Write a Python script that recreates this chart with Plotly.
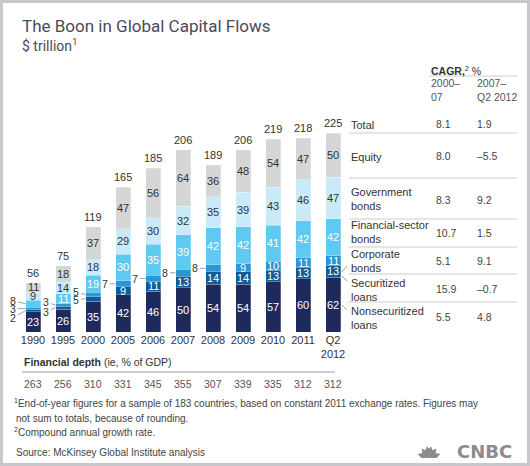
import math
import plotly.graph_objects as go

W, H = 530, 466

years = ["1990", "1995", "2000", "2005", "2006", "2007", "2008", "2009", "2010", "2011", "Q2<br>2012"]
nonsec_loans = [23, 26, 35, 42, 46, 50, 54, 54, 57, 60, 62]
sec_loans = [2, 3, 5, 9, 11, 13, 14, 14, 13, 13, 13]
corp_bonds = [3, 3, 5, 7, 7, 8, 8, 9, 10, 11, 11]
fin_bonds = [8, 11, 19, 30, 35, 39, 42, 42, 41, 42, 42]
gov_bonds = [9, 14, 18, 29, 30, 32, 35, 39, 43, 46, 47]
equity = [11, 18, 37, 47, 56, 64, 36, 48, 54, 47, 50]
totals = [56, 75, 119, 165, 185, 206, 189, 206, 219, 218, 225]
fin_depth = [263, 256, 310, 331, 345, 355, 307, 339, 335, 312, 312]

row_labels = ["Total", "Equity", "Government<br>bonds", "Financial-sector<br>bonds",
              "Corporate<br>bonds", "Securitized<br>loans", "Nonsecuritized<br>loans"]
cagr_2000_07 = ["8.1", "8.0", "8.3", "10.7", "5.1", "15.9", "5.5"]
cagr_2007_12 = ["1.9", "–5.5", "9.2", "1.5", "9.1", "–0.7", "4.8"]

series = [
    ("Nonsecuritized loans", nonsec_loans, "#1f2a5c", "white"),
    ("Securitized loans", sec_loans, "#0d5c96", "white"),
    ("Corporate bonds", corp_bonds, "#2b95d6", "white"),
    ("Financial-sector bonds", fin_bonds, "#5ec9f1", "white"),
    ("Government bonds", gov_bonds, "#c9eaf8", "#333333"),
    ("Equity", equity, "#d4d7d6", "#333333"),
]

# segments labelled outside with a leader line: (series idx, bar idx) -> (ax, ay) pixel offsets
callouts = {
    (3, 0): (-13, -3), (2, 0): (-13, 0), (1, 0): (-13, 7),
    (2, 1): (-10, -3), (1, 1): (-10, 4),
    (2, 2): (-10, -2), (1, 2): (-10, 1),
    (2, 3): (-11, 0), (2, 4): (-11, 0), (2, 5): (-11, 0), (2, 6): (-11, 0),
}

def px(x):
    return x / W

def py(y):
    return 1 - y / H

FONT = "Liberation Sans, Arial, sans-serif"
TXT = "#333333"

fig = go.Figure()
xs = list(range(len(years)))
for name, vals, col, _ in series:
    fig.add_trace(go.Bar(x=xs, y=vals, name=name, width=0.5,
                         marker=dict(color=col, line=dict(color="rgba(255,255,255,0.5)", width=0.5)),
                         hoverinfo="skip"))

ann = []

def ptext(x, y, text, size=10.5, color=TXT, xanchor="left", family=FONT, align="left"):
    ann.append(dict(x=px(x), y=py(y), xref="paper", yref="paper", xanchor=xanchor,
                    yanchor="middle", align=align, text=text, showarrow=False,
                    font=dict(size=size, color=color, family=family)))

base = [0] * len(years)
for si, (name, vals, col, tcol) in enumerate(series):
    for i, v in enumerate(vals):
        mid = base[i] + v / 2
        if (si, i) in callouts:
            ax, ay = callouts[(si, i)]
            ann.append(dict(x=i - 0.25, y=mid, xref="x", yref="y", text=str(v),
                            showarrow=True, arrowhead=0, arrowwidth=0.8, arrowcolor="#8a8a8a",
                            ax=ax, ay=ay, standoff=0, startstandoff=1,
                            font=dict(size=10.5, color=TXT, family=FONT)))
        else:
            ann.append(dict(x=i, y=mid, xref="x", yref="y", text=str(v), showarrow=False,
                            xanchor="center", yanchor="middle",
                            font=dict(size=11, color=tcol, family=FONT)))
        base[i] += v

for i, t in enumerate(totals):
    ann.append(dict(x=i, y=base[i], xref="x", yref="y", text=str(t), showarrow=False,
                    xanchor="center", yanchor="bottom", yshift=2,
                    font=dict(size=11, color=TXT, family=FONT)))

# financial depth
ptext(22, 362, "<b>Financial depth</b> (ie, % of GDP)", size=10.5)
for i, v in enumerate(fin_depth):
    ann.append(dict(x=i, y=py(384), xref="x", yref="paper", text=str(v), showarrow=False,
                    xanchor="center", yanchor="middle",
                    font=dict(size=10.5, color="#555555", family=FONT)))

# title
ptext(20, 26, "The Boon in Global Capital Flows", size=17, color="#4a4a58", family="Roboto, sans-serif")
ptext(20, 45, "$ trillion<sup>1</sup>", size=14, color="#4a4a58", family="Roboto, sans-serif")

# table header
ptext(429, 70, "<b>CAGR,</b><sup>2</sup> %", size=10.5)
ptext(429, 90.5, "2000–<br>07", size=10.5, color="#555555")
ptext(475, 90.5, "2007–<br>Q2 2012", size=10.5, color="#555555")

label_y = [125, 157, 199, 232.5, 260.5, 289.5, 317.5]
value_y = [124, 156, 200, 233, 261, 289, 317]
for lab, ly, vy, c1, c2 in zip(row_labels, label_y, value_y, cagr_2000_07, cagr_2007_12):
    ptext(349, ly, lab, size=11)
    ptext(434, vy, c1, size=10.5, color="#444444")
    ptext(475, vy, c2, size=10.5, color="#444444")

# footnotes
ptext(12, 403, "<sup>1</sup>End-of-year figures for a sample of 183 countries, based on constant 2011 exchange rates. Figures may",
      size=10, color="#444444")
ptext(14, 418, "not sum to totals, because of rounding.", size=10, color="#444444")
ptext(12, 432, "<sup>2</sup>Compound annual growth rate.", size=10, color="#444444")
ptext(14, 452, "Source: McKinsey Global Institute analysis", size=10, color="#444444")
ptext(514, 451, "<b>CNBC</b>", size=18, color="#8c8c8c", xanchor="right", family="DejaVu Sans, sans-serif")

shapes = [
    dict(type="rect", xref="paper", yref="paper", x0=px(3), x1=px(527), y0=py(463), y1=py(3),
         fillcolor="white", line=dict(width=0), layer="below"),
    dict(type="line", xref="paper", yref="paper", x0=px(22), x1=px(335), y0=py(372), y1=py(372),
         line=dict(color="#9a9a9a", width=1)),
    dict(type="line", xref="paper", yref="paper", x0=px(429), x1=px(517), y0=py(76), y1=py(76),
         line=dict(color="#cccccc", width=1)),
]
for yy in [133, 178, 219, 247, 274, 302]:
    shapes.append(dict(type="line", xref="paper", yref="paper", x0=px(349), x1=px(517),
                       y0=py(yy), y1=py(yy), line=dict(color="#cccccc", width=1)))
for (x0, y0, x1, y1) in [(342, 272, 347, 266), (342, 276, 347, 281), (342, 305, 347, 310)]:
    shapes.append(dict(type="line", xref="paper", yref="paper", x0=px(x0), x1=px(x1),
                       y0=py(y0), y1=py(y1), line=dict(color="#8a8a8a", width=0.8)))

# simple peacock mark next to the CNBC wordmark
cx, cy = 429, 458
for ang in [160, 128, 100, 80, 52, 20]:
    a = math.radians(ang)
    L, wd = 12, 2.6
    tx, ty = cx + L * math.cos(a), cy - L * math.sin(a)
    nx, ny = -math.sin(a) * wd, -math.cos(a) * wd
    mx, my = cx + 0.6 * L * math.cos(a), cy - 0.6 * L * math.sin(a)
    path = (f"M {px(cx)} {py(cy)} L {px(mx + nx)} {py(my + ny)} L {px(tx)} {py(ty)} "
            f"L {px(mx - nx)} {py(my - ny)} Z")
    shapes.append(dict(type="path", xref="paper", yref="paper", path=path,
                       fillcolor="#8c8c8c", line=dict(width=0)))

ymax = 250
fig.update_layout(
    width=W, height=H, margin=dict(l=0, r=0, t=0, b=0),
    paper_bgcolor="#c8c8cc", plot_bgcolor="rgba(0,0,0,0)",
    barmode="stack", bargap=0.5, showlegend=False,
    xaxis=dict(domain=[px(18), px(348)], range=[-0.5, 10.5], tickvals=xs, ticktext=years,
               showgrid=False, zeroline=False, showline=False, ticks="",
               tickfont=dict(size=11, color=TXT, family=FONT), fixedrange=True),
    yaxis=dict(domain=[py(332), py(332 - ymax * 0.884)], range=[0, ymax], visible=False,
               fixedrange=True),
    annotations=ann, shapes=shapes,
)

fig.write_html("out.html", config={"displayModeBar": False},
               post_script="document.body.style.margin='0';")
